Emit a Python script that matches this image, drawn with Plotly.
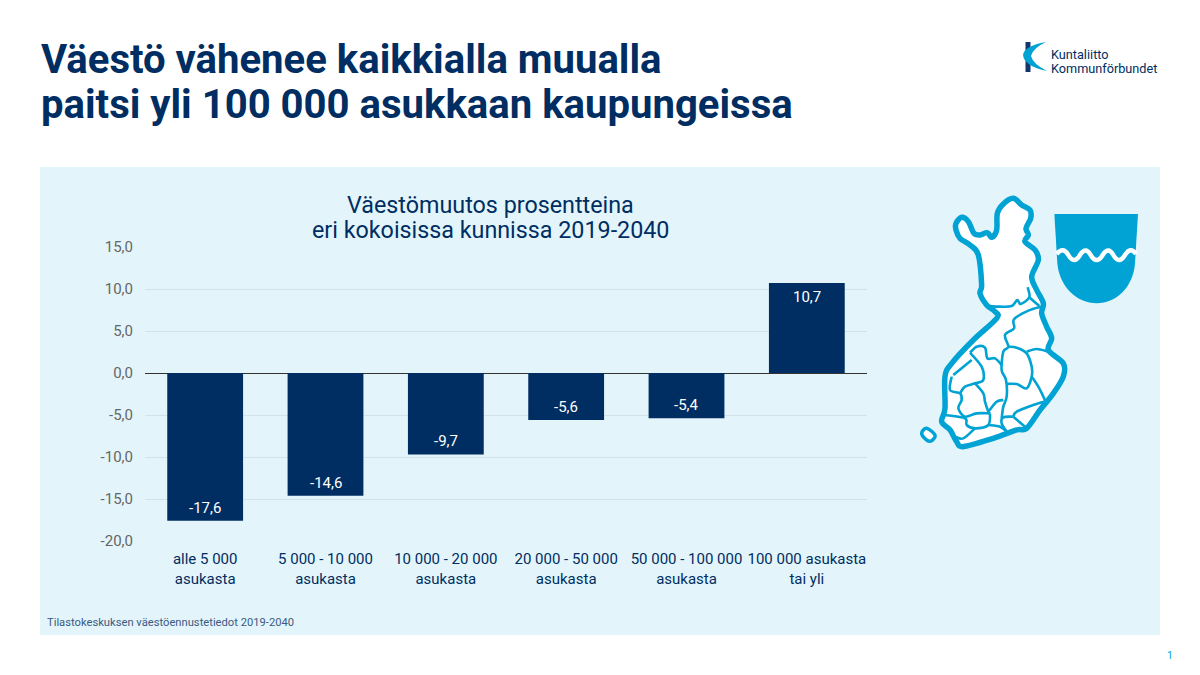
import plotly.graph_objects as go

categories = ["alle 5 000<br>asukasta", "5 000 - 10 000<br>asukasta", "10 000 - 20 000<br>asukasta",
              "20 000 - 50 000<br>asukasta", "50 000 - 100 000<br>asukasta", "100 000 asukasta<br>tai yli"]
values = [-17.6, -14.6, -9.7, -5.6, -5.4, 10.7]
tick_vals = [15, 10, 5, 0, -5, -10, -15, -20]
tick_labels = ["15,0", "10,0", "5,0", "0,0", "-5,0", "-10,0", "-15,0", "-20,0"]

NAVY = "#002d62"
CYAN = "#00a3d3"
W, H = 1200, 675
L, R, T, B = 145, 867, 247, 541

# decoration only: outline of the map (zoom crop coordinates)
map_outline = [(168, 130), (185, 112), (205, 125), (222, 160), (240, 165), (262, 158), (275, 172), (290, 150),
               (292, 100), (310, 72), (340, 55), (365, 75), (390, 90), (392, 115), (378, 145), (385, 165),
               (375, 185), (405, 210), (415, 240), (395, 290), (410, 330), (430, 370), (425, 400), (440, 440),
               (455, 475), (445, 510), (490, 550), (490, 590), (460, 640), (420, 690), (380, 745), (350, 750),
               (280, 775), (190, 800), (170, 785), (150, 750), (125, 725), (135, 685), (135, 590), (155, 550),
               (220, 480), (290, 415), (285, 395), (260, 375), (240, 340), (245, 315), (235, 225), (210, 195),
               (180, 175), (168, 150)]
map_borders = [
    [(262, 378), (300, 380), (335, 378), (352, 360), (362, 372), (388, 352), (383, 322)],
    [(388, 352), (418, 378)],
    [(425, 380), (385, 392), (342, 418), (342, 445), (315, 465), (325, 500), (310, 515), (305, 570), (318, 600),
     (320, 650), (310, 680), (305, 715)],
    [(325, 500), (350, 503), (380, 520), (395, 560), (395, 590), (380, 625), (350, 612), (318, 612)],
    [(380, 515), (410, 507), (445, 515)],
    [(395, 590), (415, 620), (435, 660)],
    [(445, 662), (400, 675), (350, 695), (340, 710)],
    [(340, 710), (310, 712), (305, 730), (320, 755)],
    [(340, 710), (375, 740)],
    [(210, 518), (230, 500), (255, 503), (262, 535), (285, 535), (305, 555)],
    [(210, 518), (245, 560), (250, 600), (225, 610), (195, 620), (180, 640)],
    [(225, 610), (250, 640), (255, 665), (265, 695), (270, 700)],
    [(155, 590), (150, 630), (180, 640), (185, 660), (175, 685), (195, 710), (230, 700), (270, 700)],
    [(160, 585), (215, 540)],
    [(135, 705), (195, 715), (200, 735), (225, 745), (265, 735), (270, 700)],
    [(225, 745), (190, 775), (165, 770)],
    [(265, 735), (300, 740), (320, 755)],
    [(265, 695), (290, 665), (310, 660)],
]
island = [(65, 760), (80, 745), (105, 765), (95, 782), (80, 780)]


def px(x, y):
    return (x - L) / (R - L), (B - y) / (B - T)


def zoom_pt(p):
    return px(900 + p[0] / 3, 180 + p[1] / 3)


def smooth(points, close=False):
    # catmull-rom through the traced points, so the outline has no sharp corners
    pts = [zoom_pt(p) for p in points]
    n = len(pts)
    s = "M%.4f,%.4f " % pts[0]
    for i in range(n if close else n - 1):
        if close:
            p0, p1, p2, p3 = pts[(i - 1) % n], pts[i], pts[(i + 1) % n], pts[(i + 2) % n]
        else:
            p0, p1, p2, p3 = pts[max(i - 1, 0)], pts[i], pts[i + 1], pts[min(i + 2, n - 1)]
        c1 = (p1[0] + (p2[0] - p0[0]) / 6, p1[1] + (p2[1] - p0[1]) / 6)
        c2 = (p2[0] - (p3[0] - p1[0]) / 6, p2[1] - (p3[1] - p1[1]) / 6)
        s += "C%.4f,%.4f %.4f,%.4f %.4f,%.4f " % (c1 + c2 + p2)
    return s + ("Z" if close else "")


def shape(path, fill="rgba(0,0,0,0)", color=CYAN, width=0, layer="above"):
    return dict(type="path", xref="paper", yref="paper", path=path, fillcolor=fill, layer=layer,
                line=dict(color=color, width=width))


def curve(cmds):
    # cmds are (letter, points...) in zoom crop coordinates
    s = ""
    for c in cmds:
        s += c[0]
        s += " ".join("%.4f,%.4f" % zoom_pt(p) for p in c[1:]) + " "
    return s


shapes = []
# light panel
x0, y0 = px(40, 635)
x1, y1 = px(1160, 167)
shapes.append(dict(type="rect", xref="paper", yref="paper", x0=x0, y0=y0, x1=x1, y1=y1,
                   fillcolor="#e3f5fb", line_width=0, layer="below"))
# map
shapes.append(shape(smooth(map_outline, True), fill="white", width=5.5))
shapes.append(shape(smooth(island, True), fill="white", width=3.5))
for b in map_borders:
    shapes.append(shape(smooth(b), width=2.6))
# coat of arms
shapes.append(shape(curve([("M", (463, 102)), ("L", (714, 102)), ("L", (705, 250)),
                           ("C", (700, 320), (650, 370), (590, 370)),
                           ("C", (530, 370), (478, 320), (472, 250))]) + "Z", fill=CYAN))
shapes.append(shape(curve([("M", (470, 222)), ("Q", (490, 198), (505, 225)), ("Q", (522, 255), (540, 225)),
                           ("Q", (557, 198), (572, 225)), ("Q", (590, 255), (608, 225)),
                           ("Q", (625, 198), (640, 225)), ("Q", (657, 255), (675, 225)),
                           ("Q", (692, 198), (708, 222))]), color="white", width=4.5))
# logo mark
xa, ya = px(1025.5, 72)
xb, yb = px(1030.5, 42)
shapes.append(dict(type="rect", xref="paper", yref="paper", x0=xa, y0=ya, x1=xb, y1=yb, fillcolor="#12366e",
                   line_width=0))


def logo_pt(x, y):
    return "%.4f,%.4f" % px(x, y)


shapes.append(shape("M" + logo_pt(1046, 42) + " Q" + logo_pt(1024, 46) + " " + logo_pt(1023, 55) + " Q" +
                    logo_pt(1024, 66) + " " + logo_pt(1047, 71) + " Q" + logo_pt(1033, 64) + " " +
                    logo_pt(1031, 56) + " Q" + logo_pt(1033, 48) + " " + logo_pt(1046, 42) + " Z", fill=CYAN))


def label(x, y, text, size, color=NAVY, anchor="left", bold=False, family="Roboto"):
    ax, ay = px(x, y)
    return dict(xref="paper", yref="paper", x=ax, y=ay, text=f"<b>{text}</b>" if bold else text, showarrow=False,
                xanchor=anchor, yanchor="middle", align="center" if anchor == "center" else "left",
                font=dict(family=family, size=size, color=color), borderpad=0)


annotations = [
    label(40, 59, "Väestö vähenee kaikkialla muualla", 40.1, bold=True),
    label(40, 104, "paitsi yli 100 000 asukkaan kaupungeissa", 40.1, bold=True),
    label(490, 205, "Väestömuutos prosentteina", 23.3, anchor="center"),
    label(490, 230, "eri kokoisissa kunnissa 2019-2040", 23.3, anchor="center"),
    label(46, 622, "Tilastokeskuksen väestöennustetiedot 2019-2040", 11.2, color="#3a5a82"),
    label(1050, 54, "Kuntaliitto", 12.7),
    label(1050, 68, "Kommunförbundet", 12.7),
    label(1170, 655, "1", 10.5, color=CYAN, anchor="center"),
]
# value labels sit inside the bar, 14 px from its end
for cat, v in zip(categories, values):
    annotations.append(dict(xref="x", yref="y", x=cat, y=v, yshift=13 if v < 0 else -14, showarrow=False,
                            text=f"{v:.1f}".replace(".", ","), xanchor="center", yanchor="middle", borderpad=0,
                            font=dict(family="Roboto", size=15, color="white")))

fig = go.Figure(go.Bar(x=categories, y=values, width=0.63, marker=dict(color=NAVY, line_width=0)))
fig.update_layout(
    width=W, height=H, autosize=False, showlegend=False, paper_bgcolor="white", plot_bgcolor="rgba(0,0,0,0)",
    margin=dict(l=L, r=W - R, t=T, b=H - B, pad=0), shapes=shapes, annotations=annotations,
    font=dict(family="Roboto"), bargap=0.37,
)
fig.update_yaxes(range=[-20, 15], tickmode="array", tickvals=tick_vals, ticktext=tick_labels, ticks="",
                 tickfont=dict(family="Roboto", size=15, color="#666666"), gridcolor="#d3e2e8", gridwidth=1,
                 zeroline=True, zerolinecolor="#333333", zerolinewidth=1, showline=False, ticklabelstandoff=11)
fig.update_xaxes(tickfont=dict(family="Roboto", size=15, color=NAVY), ticks="", showline=False, showgrid=False,
                 tickangle=0, ticklabelstandoff=7)
fig.write_html("out.html", config={"displayModeBar": False}, post_script="document.body.style.margin='0';")
